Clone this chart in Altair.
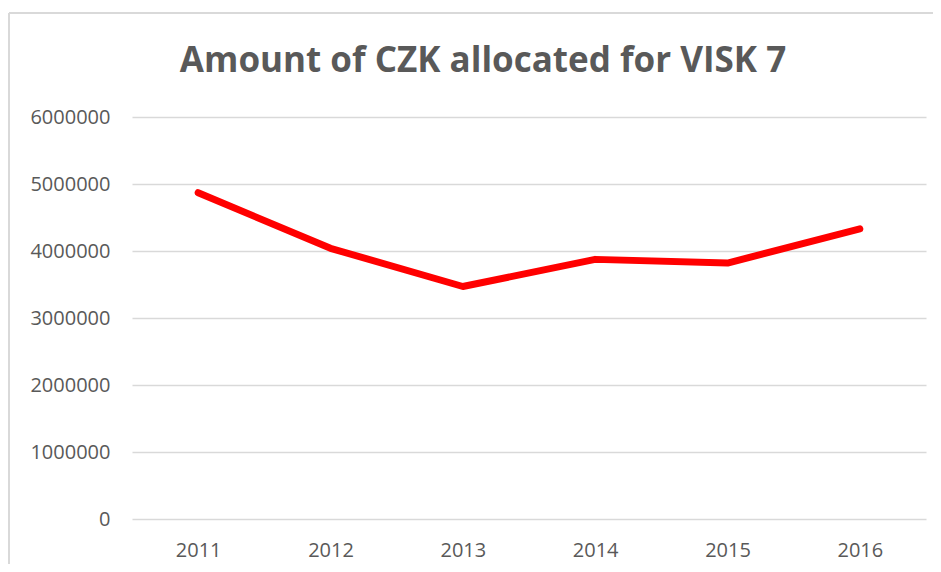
import altair as alt
import pandas as pd

years = ["2011", "2012", "2013", "2014", "2015", "2016"]
amounts = [4870000, 4040000, 3470000, 3875000, 3820000, 4330000]
y_ticks = [0, 1000000, 2000000, 3000000, 4000000, 5000000, 6000000]

df = pd.DataFrame({"year": years, "amount": amounts})

GREY = "#595959"
FONT = "Open Sans"

x_enc = alt.X("year:N", sort=years, title=None,
              scale=alt.Scale(paddingInner=1, paddingOuter=0.5, align=0.5),
              axis=alt.Axis(labelAngle=0, labelFont=FONT, labelFontSize=20, labelColor=GREY,
                            labelPadding=21, domain=False, ticks=False, grid=False))
y_enc = alt.Y("amount:Q", title=None,
              scale=alt.Scale(domain=[0, 6000000], nice=False, zero=True),
              axis=alt.Axis(values=y_ticks, format="d", labelFont=FONT, labelFontSize=20,
                            labelColor=GREY, labelPadding=22, domain=False, ticks=False,
                            grid=True, gridColor="#d9d9d9", gridWidth=1.5))

line = alt.Chart(df).mark_line(color="#ff0000", strokeWidth=7, strokeCap="round",
                               strokeJoin="round").encode(x=x_enc, y=y_enc)

# decorative chart frame (light grey border)
frame_left = alt.Chart(df).mark_rule(color="#d9d9d9", strokeWidth=1.5).encode(
    x=alt.value(-123), y=alt.value(-104), y2=alt.value(460))
frame_top = alt.Chart(df).mark_rule(color="#d9d9d9", strokeWidth=1.5).encode(
    x=alt.value(-123), x2=alt.value(820), y=alt.value(-104))

chart = alt.layer(frame_left, frame_top, line).properties(
    width=794, height=402,
    autosize=alt.AutoSizeParams(type="none"),
    padding={"left": 124, "top": 109, "right": 7, "bottom": 45},
    title=alt.TitleParams("Amount of CZK allocated for VISK 7", font=FONT, fontSize=35,
                          fontWeight="bold", color=GREY, anchor="middle", dx=-46, offset=-67),
).configure_view(stroke=None)

chart.save("out.html", embed_options={"renderer": "svg", "actions": False})
